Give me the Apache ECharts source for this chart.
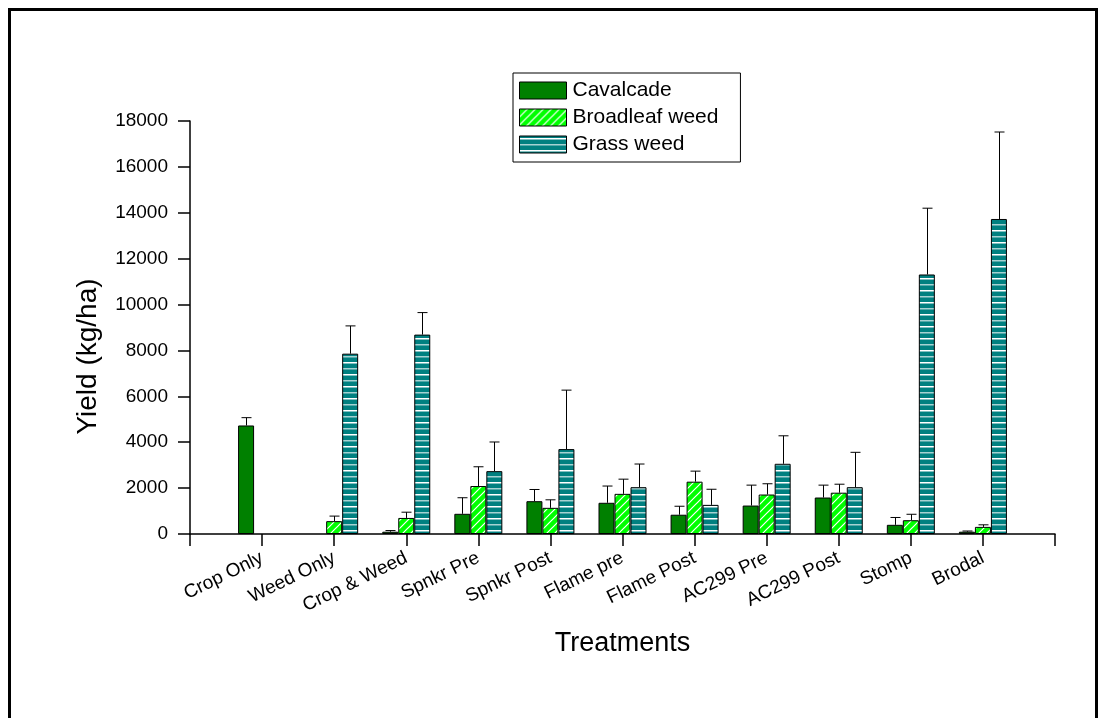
<!DOCTYPE html>
<html>
<head>
<meta charset="utf-8">
<style>
  html, body { margin: 0; padding: 0; background: #fff; }
  #container { width: 1106px; height: 718px; }
</style>
<script src="https://cdn.jsdelivr.net/npm/echarts@6/dist/echarts.min.js"></script>
</head>
<body>
<div id="container"></div>
<script>
var treatments = ['Crop Only', 'Weed Only', 'Crop & Weed', 'Spnkr Pre', 'Spnkr Post', 'Flame pre',
    'Flame Post', 'AC299 Pre', 'AC299 Post', 'Stomp', 'Brodal'];
var seriesNames = ['Cavalcade', 'Broadleaf weed', 'Grass weed'];

// mean yield
var cavalcade = [4730, 0, 100, 880, 1430, 1360, 840, 1240, 1590, 400, 100];
var broadleaf = [0, 560, 700, 2090, 1140, 1750, 2280, 1720, 1800, 600, 310];
var grass = [0, 7860, 8690, 2740, 3700, 2040, 1270, 3060, 2040, 11310, 13730];

// top of the error bar (mean + error)
var cavalcadeTop = [5070, 0, 150, 1580, 1940, 2090, 1210, 2130, 2130, 720, 130];
var broadleafTop = [0, 780, 950, 2930, 1490, 2390, 2740, 2190, 2170, 860, 400];
var grassTop = [0, 9070, 9650, 4010, 6270, 3050, 1950, 4280, 3560, 14200, 17520];

var yTicks = [0, 2000, 4000, 6000, 8000, 10000, 12000, 14000, 16000, 18000];

var font = 'Liberation Sans, Arial, sans-serif';
var barW = 16;

function stripes(type) {
    var c = document.createElement('canvas');
    var ctx;
    if (type === 'diag') {
        c.width = 8; c.height = 8;
        ctx = c.getContext('2d');
        ctx.fillStyle = '#00ff00';
        ctx.fillRect(0, 0, 8, 8);
        ctx.strokeStyle = '#ffffff';
        ctx.lineWidth = 1.2;
        ctx.beginPath();
        ctx.moveTo(-1, 9); ctx.lineTo(9, -1);
        ctx.moveTo(-1, 1); ctx.lineTo(1, -1);
        ctx.moveTo(7, 9); ctx.lineTo(9, 7);
        ctx.stroke();
    } else {
        c.width = 4; c.height = 12;
        ctx = c.getContext('2d');
        ctx.fillStyle = '#008080';
        ctx.fillRect(0, 0, 4, 12);
        ctx.fillStyle = '#ffffff';
        ctx.fillRect(0, 2, 4, 1.5);
        ctx.fillStyle = '#a6d2d2';
        ctx.fillRect(0, 8, 4, 1.5);
    }
    return { image: c, repeat: 'repeat' };
}

var fills = ['#008000', stripes('diag'), stripes('horiz')];

// axis runs from one empty slot to another, groups sit on the ticks
var axisCats = [''].concat(treatments).concat(['']);

function barData(vals) {
    var d = ['-'];
    vals.forEach(function (v) { d.push(v === 0 ? '-' : v); });
    d.push('-');
    return d;
}

function errData(vals, tops) {
    var d = [];
    vals.forEach(function (v, i) {
        if (tops[i] > 0) d.push([i + 1, v, tops[i]]);
    });
    return d;
}

var means = [cavalcade, broadleaf, grass];
var tops = [cavalcadeTop, broadleafTop, grassTop];

var series = [];
seriesNames.forEach(function (name, k) {
    series.push({
        name: name,
        type: 'bar',
        barWidth: barW,
        barGap: '0%',
        itemStyle: { color: fills[k], borderColor: '#000', borderWidth: 1 },
        emphasis: { disabled: true },
        data: barData(means[k])
    });
});
seriesNames.forEach(function (name, k) {
    series.push({
        type: 'custom',
        z: 1,
        silent: true,
        renderItem: function (params, api) {
            var base = api.coord([api.value(0), api.value(1)]);
            var tip = api.coord([api.value(0), api.value(2)]);
            var x = Math.round(base[0] + (k - 1) * barW) + 0.5;
            return {
                type: 'group',
                children: [{
                    type: 'line',
                    shape: { x1: x, y1: base[1], x2: x, y2: tip[1] },
                    style: { stroke: '#000', lineWidth: 1 }
                }, {
                    type: 'line',
                    shape: { x1: x - 5, y1: tip[1], x2: x + 5, y2: tip[1] },
                    style: { stroke: '#000', lineWidth: 1 }
                }]
            };
        },
        data: errData(means[k], tops[k])
    });
});

var dom = document.getElementById('container');
var myChart = echarts.init(dom);
var option = {
    animation: false,
    textStyle: { fontFamily: font },
    graphic: [{
        type: 'rect',
        shape: { x: 9.5, y: 9.5, width: 1087, height: 740 },
        style: { fill: 'none', stroke: '#000', lineWidth: 3 }
    }],
    legend: {
        data: seriesNames,
        orient: 'vertical',
        left: 513,
        top: 73,
        padding: [7, 22, 7, 6],
        itemWidth: 47,
        itemHeight: 17,
        itemGap: 6,
        icon: 'rect',
        borderColor: '#000',
        borderWidth: 1,
        itemStyle: { borderColor: '#000', borderWidth: 1 },
        textStyle: { fontSize: 21, color: '#000', fontFamily: font, padding: [0, 0, 0, 1] }
    },
    grid: {
        left: 190,
        right: 51,
        top: 121,
        bottom: 184
    },
    xAxis: {
        type: 'category',
        data: axisCats,
        boundaryGap: false,
        name: 'Treatments',
        nameLocation: 'middle',
        nameGap: 96,
        nameTextStyle: { fontSize: 27, color: '#000', fontFamily: font },
        axisLine: { lineStyle: { color: '#000', width: 1.5 } },
        axisTick: { length: 12, interval: 0, lineStyle: { color: '#000', width: 1.5 } },
        axisLabel: { interval: 0, rotate: 26, margin: 23, fontSize: 19, color: '#000', fontFamily: font },
        splitLine: { show: false }
    },
    yAxis: {
        type: 'value',
        min: yTicks[0],
        max: yTicks[yTicks.length - 1],
        interval: 2000,
        name: 'Yield (kg/ha)',
        nameLocation: 'middle',
        nameGap: 88,
        nameTextStyle: { fontSize: 28, color: '#000', fontFamily: font, padding: [0, 58, 0, 0] },
        axisLine: { show: true, lineStyle: { color: '#000', width: 1.5 } },
        axisTick: { show: true, length: 12, lineStyle: { color: '#000', width: 1.5 } },
        axisLabel: {
            margin: 22, fontSize: 19, color: '#000', fontFamily: font,
            formatter: function (v) { return String(v); }
        },
        splitLine: { show: false }
    },
    series: series
};

if (option && typeof option === 'object') {
    myChart.setOption(option, true);
}
</script>
</body>
</html>
